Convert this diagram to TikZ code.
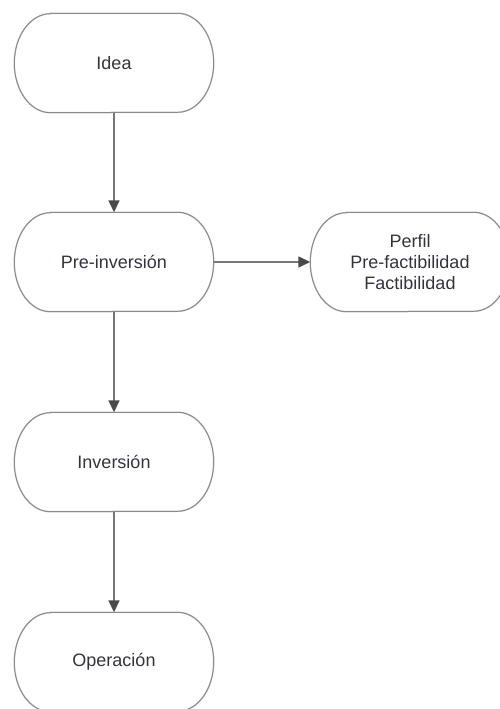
\documentclass[tikz,border=0pt]{standalone}
\usepackage{fontspec}
\setmainfont{Liberation Sans}
\usetikzlibrary{arrows.meta,calc}
\definecolor{boxc}{HTML}{8A8A8A}
\definecolor{shadc}{HTML}{D8D8D8}
\definecolor{linec}{HTML}{777777}
\definecolor{tipc}{HTML}{4A4A4A}
\definecolor{txtc}{HTML}{333340}
\tikzset{
  stepnode/.style={minimum width=199pt, minimum height=99pt, inner sep=0pt,
    text=txtc, font=\fontsize{18}{21}\selectfont, align=center},
  conn/.style={draw=linec, line width=1.5pt, -{Triangle[length=12pt,width=11pt,color=tipc]}},
  outline/.style={draw=boxc, line width=1pt},
  shadowline/.style={draw=shadc, line width=1.5pt}
}
\newcommand\stadiumpath[1]{($(#1.north west)+(36pt,0)$) -- ($(#1.north east)+(-36pt,0)$)
  arc[start angle=90,end angle=-90,x radius=36pt,y radius=49.5pt]
  -- ($(#1.south west)+(36pt,0)$)
  arc[start angle=270,end angle=90,x radius=36pt,y radius=49.5pt] -- cycle}
\newcommand\stadiumbox[1]{%
  \draw[shadowline,shift={(1pt,-1.5pt)}] \stadiumpath{#1};
  \draw[outline] \stadiumpath{#1};}
\begin{document}
\begin{tikzpicture}[x=1pt,y=1pt]
  \useasboundingbox (0,0) rectangle (500,709);
  \clip (0,0) rectangle (500,709);
  \node[stepnode] (idea) at (114,646) {Idea};
  \node[stepnode] (pre)  at (114,447) {Pre-inversión};
  \node[stepnode] (inv)  at (114,247) {Inversión};
  \node[stepnode] (op)   at (114,47)  {Operación};
  \node[stepnode] (fact) at (410,447) {Perfil\\Pre-factibilidad\\Factibilidad};
  \stadiumbox{idea}
  \stadiumbox{pre}
  \stadiumbox{inv}
  \stadiumbox{op}
  \stadiumbox{fact}
  \draw[conn] (idea) -- (pre);
  \draw[conn] (pre) -- (inv);
  \draw[conn] (inv) -- (op);
  \draw[conn] (pre) -- (fact);
\end{tikzpicture}
\end{document}
